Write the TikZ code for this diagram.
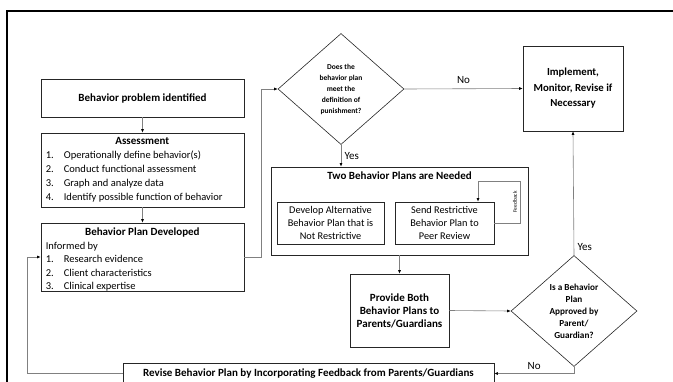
\documentclass[tikz,border=0pt]{standalone}
\usepackage{fontspec}
\setmainfont{Carlito}
\usetikzlibrary{shapes.geometric,arrows.meta}

\begin{document}
\begin{tikzpicture}[x=1pt,y=-1pt,font=\fontsize{11}{13}\selectfont,
    box/.style={draw=black!85,line width=0.7pt,inner sep=0pt},
    decide/.style={diamond,draw=black!85,line width=0.6pt,inner sep=0pt,
      minimum width=126pt,minimum height=111pt,align=center,
      font=\fontsize{7.5}{11}\selectfont\bfseries},
    conn/.style={draw=gray,line width=0.6pt,-{Latex[length=3.5pt,width=3pt,color=black]}}]
      \useasboundingbox (0,0) rectangle (673,381);
      \clip (0,0) rectangle (673,381);

      % Outer frame (cut by the picture edge)
      \draw[line width=2.6pt] (7,400) -- (7,11) -- (700,11);

      % Left column
      \node[box,minimum width=203pt,minimum height=38pt,font=\fontsize{11}{13}\selectfont\bfseries] (prob) at (142.5,98) {Behavior problem identified};

      \node[box,minimum width=203pt,minimum height=74pt] (assess) at (142.5,170) {};
      \node[anchor=north west,inner sep=0pt,font=\fontsize{10.5}{14}\selectfont] (assesst) at ([xshift=5pt,yshift=-2pt]assess.north west) {%
        \begin{tabular}{@{}p{18pt}@{}p{175pt}@{}}
          \multicolumn{2}{@{}c@{}}{\fontsize{11}{14}\selectfont\bfseries Assessment}\\
          1. & Operationally define behavior(s)\\
          2. & Conduct functional assessment\\
          3. & Graph and analyze data\\
          4. & Identify possible function of behavior
        \end{tabular}};

      \node[box,minimum width=203pt,minimum height=68pt] (plan) at (142.5,257) {};
      \node[anchor=north west,inner sep=0pt,font=\fontsize{10.5}{13.5}\selectfont] (plant) at ([xshift=5pt,yshift=-3.5pt]plan.north west) {%
        \begin{tabular}{@{}p{18pt}@{}p{175pt}@{}}
          \multicolumn{2}{@{}c@{}}{\fontsize{11}{13.5}\selectfont\bfseries Behavior Plan Developed}\\
          \multicolumn{2}{@{}l@{}}{Informed by}\\
          1. & Research evidence\\
          2. & Client characteristics\\
          3. & Clinical expertise
        \end{tabular}};

      % Punishment decision
      \node[decide] (d1) at (341,89) {Does the\\ behavior plan\\ meet the\\ definition of\\ punishment?};

      \node[box,minimum width=100pt,minimum height=85pt,align=center,font=\fontsize{10.8}{15.5}\selectfont\bfseries] (impl) at (573,88.5) {Implement,\\ Monitor, Revise if\\ Necessary};

      % Two plans
      \node[box,minimum width=257pt,minimum height=88pt] (two) at (399.5,211) {};
      \node[anchor=north,font=\fontsize{11}{13}\selectfont\bfseries] (twot) at ([yshift=-2pt]two.north) {Two Behavior Plans are Needed};

      \node[box,minimum width=107pt,minimum height=42pt,align=center,font=\fontsize{10.3}{13}\selectfont] (alt) at (330.5,223) {Develop Alternative\\ Behavior Plan that is\\ Not Restrictive};
      \node[box,minimum width=99pt,minimum height=42pt,align=center,font=\fontsize{10.3}{13}\selectfont] (peer) at (444.5,223) {Send Restrictive\\ Behavior Plan to\\ Peer Review};
      \coordinate (fbtop) at (478,181);

      \node[box,minimum width=99pt,minimum height=73pt,align=center,font=\fontsize{11}{13}\selectfont\bfseries] (prov) at (399.5,310.5) {Provide Both\\ Behavior Plans to\\ Parents/Guardians};

      % Approval decision
      \node[decide,font=\fontsize{9.2}{12}\selectfont\bfseries] (d2) at (574,311) {Is a Behavior\\ Plan\\ Approved by\\ Parent/\\ Guardian?};

      \node[box,minimum width=371pt,minimum height=21pt,font=\fontsize{11}{13}\selectfont\bfseries] (rev) at (308.5,373.5) {Revise Behavior Plan by Incorporating Feedback from Parents/Guardians};

      % Connectors
      \draw[conn] (prob) -- (assess);
      \draw[conn] (assess) -- (plan);
      \draw[conn] (plan.east) -- ++(17,0) |- (d1.west);
      \draw[conn] (d1.east) -- node[above=2pt] {No} (impl.west);
      \draw[conn] (d1.south) -- node[right] {Yes} (d1.south |- two.north);
      \draw[conn] (peer.east) -- ++(26,0) |- (fbtop) -- (fbtop |- peer.north);
      \path (peer.east) ++(26,0) ++(0,-21) node[anchor=south,rotate=90,font=\fontsize{5.5}{6}\selectfont] (fbl) {Feedback};
      \draw[conn] (two.south) -- (prov.north);
      \draw[conn] (prov.east) -- (d2.west);
      \draw[conn] (d2.north) -- node[pos=0.07,right] {Yes} (impl.south);
      \draw[conn] (d2.south) |- node[pos=0.75,above] {No} (rev.east);
      \draw[conn] (rev.west) -- ++(-95,0) |- (plan.west);

\end{tikzpicture}
\end{document}
